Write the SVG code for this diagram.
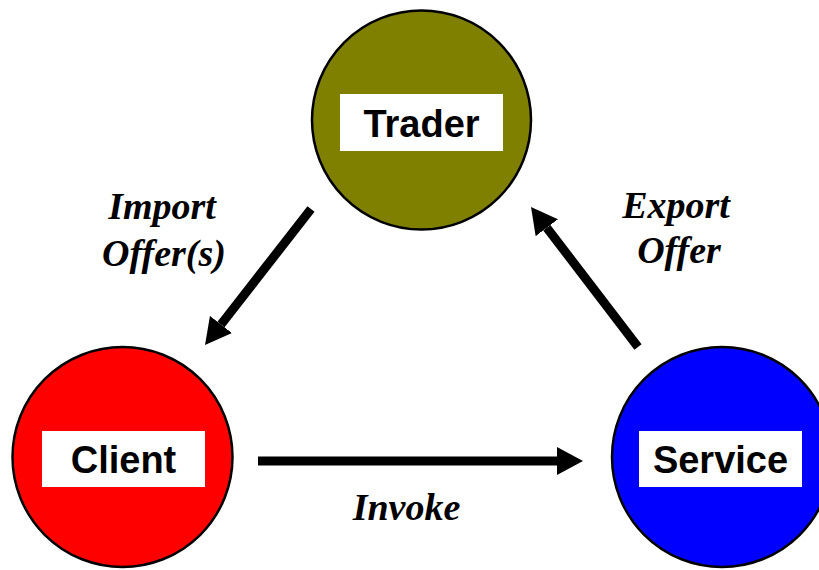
<svg xmlns="http://www.w3.org/2000/svg" width="819" height="570" viewBox="0 0 819 570">
  <style>
    .node { stroke: #000; stroke-width: 2.5; }
    .box { fill: #fff; stroke: none; }
    .name { font-family: "Liberation Sans", Arial, sans-serif; font-weight: bold; font-size: 38px; fill: #000; text-anchor: middle; }
    .label { font-family: "Liberation Serif", "Times New Roman", serif; font-weight: bold; font-style: italic; font-size: 38px; fill: #000; text-anchor: middle; }
    .edge { stroke: #000; stroke-width: 9; fill: none; marker-end: url(#head); }
  </style>
  <defs>
    <marker id="head" viewBox="0 0 26 28" refX="0" refY="14" markerWidth="26" markerHeight="28" markerUnits="userSpaceOnUse" orient="auto">
      <path d="M0,0 L26,14 L0,28 Z" fill="#000"/>
    </marker>
  </defs>

  <rect width="819" height="570" fill="#fff"/>

  <g id="trader">
    <circle class="node" cx="421.5" cy="120" r="109.5" fill="#808000"/>
    <rect class="box" x="340" y="94" width="163" height="57"/>
    <text class="name" x="421.5" y="137">Trader</text>
  </g>

  <g id="client">
    <circle class="node" cx="122.5" cy="457" r="110" fill="#ff0000"/>
    <rect class="box" x="42" y="431" width="163" height="56"/>
    <text class="name" x="123.5" y="473">Client</text>
  </g>

  <g id="service">
    <circle class="node" cx="722" cy="457" r="110" fill="#0000ff"/>
    <rect class="box" x="639" y="431" width="163" height="56"/>
    <text class="name" x="720.5" y="473">Service</text>
  </g>

  <g id="connectors">
    <line class="edge" x1="311" y1="209" x2="221" y2="324.5"/>
    <line class="edge" x1="638" y1="347" x2="546.8" y2="227.7"/>
    <line class="edge" x1="258" y1="461" x2="557" y2="461"/>
  </g>

  <g id="labels">
    <text class="label" x="162" y="219">Import</text>
    <text class="label" x="164" y="266">Offer(s)</text>
    <text class="label" x="676" y="218">Export</text>
    <text class="label" x="679" y="263">Offer</text>
    <text class="label" x="406.5" y="520">Invoke</text>
  </g>
</svg>
